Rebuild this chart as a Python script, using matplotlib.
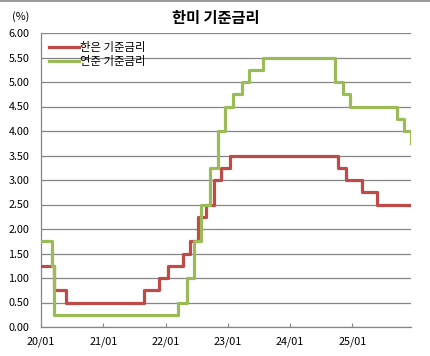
import matplotlib
matplotlib.use("Agg")
import matplotlib.pyplot as plt
import numpy as np
import pandas as pd

plt.rcParams["font.family"] = ["Noto Sans CJK KR", "DejaVu Sans"]

# policy rate changes (date, rate), held until the next change
kor_dates = ["2020-01-01", "2020-03-16", "2020-05-28", "2021-08-26", "2021-11-25",
             "2022-01-14", "2022-04-14", "2022-05-26", "2022-07-13", "2022-08-25",
             "2022-10-12", "2022-11-24", "2023-01-13", "2024-10-11", "2024-11-28",
             "2025-02-25", "2025-05-29", "2025-12-12"]
kor_rates = [1.25, 0.75, 0.50, 0.75, 1.00,
             1.25, 1.50, 1.75, 2.25, 2.50,
             3.00, 3.25, 3.50, 3.25, 3.00,
             2.75, 2.50, 2.50]

us_dates = ["2020-01-01", "2020-03-03", "2020-03-16", "2022-03-17", "2022-05-05",
            "2022-06-16", "2022-07-28", "2022-09-22", "2022-11-03", "2022-12-15",
            "2023-02-02", "2023-03-23", "2023-05-04", "2023-07-27", "2024-09-19",
            "2024-11-08", "2024-12-19", "2025-09-18", "2025-10-30", "2025-12-11",
            "2025-12-12"]
us_rates = [1.75, 1.25, 0.25, 0.50, 1.00,
            1.75, 2.50, 3.25, 4.00, 4.50,
            4.75, 5.00, 5.25, 5.50, 5.00,
            4.75, 4.50, 4.25, 4.00, 3.75,
            3.75]

tick_years = [2020, 2021, 2022, 2023, 2024, 2025]
tick_labels = ["20/01", "21/01", "22/01", "23/01", "24/01", "25/01"]

fig = plt.figure(figsize=(4.31, 3.56), dpi=100)
ax = fig.add_axes([41 / 431, 1 - 327 / 356, 370 / 431, 294 / 356])

red = "#BE4B48"
green = "#9BBB59"
ax.step(pd.to_datetime(kor_dates), kor_rates, where="post", color=red, lw=2.3,
        label="한은 기준금리", zorder=3)
ax.step(pd.to_datetime(us_dates), us_rates, where="post", color=green, lw=2.3,
        label="연준 기준금리", zorder=3)

yt = np.arange(0, 6.01, 0.5)
ax.set_xlim(pd.Timestamp("2020-01-01"), pd.Timestamp("2025-12-12"))
ax.set_ylim(0, 6)
ax.set_yticks(yt)
ax.set_yticklabels([f"{v:.2f}" for v in yt], fontsize=7.8)
ax.set_xticks([pd.Timestamp(f"{y}-01-01") for y in tick_years])
ax.set_xticklabels(tick_labels, fontsize=7.8)
ax.tick_params(axis="y", length=0, pad=8.5)
ax.tick_params(axis="x", direction="in", length=3, color="#868686", pad=6.5)

ax.grid(axis="y", color="#868686", lw=0.9)
ax.set_axisbelow(True)
for s in ["top", "right"]:
    ax.spines[s].set_visible(False)
for s in ["left", "bottom"]:
    ax.spines[s].set_color("#868686")
    ax.spines[s].set_linewidth(0.9)

ax.legend(loc="upper left", bbox_to_anchor=(0.0, 0.995), frameon=False,
          fontsize=8.2, handlelength=2.6, handletextpad=0.15,
          labelspacing=0.25, borderaxespad=0.3)

fig.text(0.5, 1 - 18 / 356, "한미 기준금리", ha="center", va="center",
         fontsize=11, fontweight="bold")
fig.text(21 / 431, 1 - 17 / 356, "(%)", ha="center", va="center", fontsize=7.8)
fig.add_artist(plt.Line2D([0, 1], [0.998, 0.998], color="#868686", lw=1.2))

fig.savefig("out.png", dpi=100)
